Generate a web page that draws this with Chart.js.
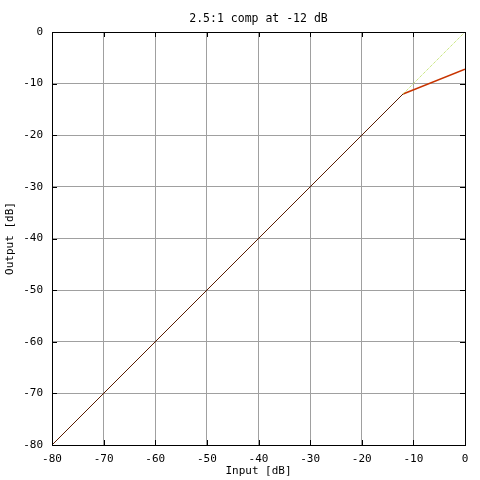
<!DOCTYPE html>
<html>
<head>
<meta charset="utf-8">
<script src="https://cdn.jsdelivr.net/npm/chart.js@4"></script>
<style>
    html, body { margin: 0; padding: 0; background: #fff; }
    canvas { display: block; }
</style>
</head>
<body>
<canvas id="myChart" width="480" height="480"></canvas>
<script>
const titleText = '2.5:1 comp at -12 dB';

// knee at -12 dB, ratio 2.5:1
const linearIn = [-80, -12];
const linearOut = [-80, -12];
const compIn = [-12, 0];
const compOut = [-12, -7.2];
const unityIn = [-12, 0];
const unityOut = [-12, 0];

const tickValues = [-80, -70, -60, -50, -40, -30, -20, -10, 0];

const monoFont = { family: 'DejaVu Sans Mono', size: 11 };

function toPoints(xs, ys) {
    return xs.map((x, i) => ({ x: x, y: ys[i] }));
}

// black frame + inward tick marks, gnuplot style
const framePlugin = {
    id: 'frame',
    afterDatasetsDraw(chart) {
        const { ctx, chartArea: a, scales } = chart;
        ctx.save();
        ctx.strokeStyle = '#000';
        ctx.lineWidth = 1;
        ctx.beginPath();
        tickValues.forEach(v => {
            const x = Math.round(scales.x.getPixelForValue(v)) + 0.5;
            ctx.moveTo(x, a.top); ctx.lineTo(x, a.top + 5);
            ctx.moveTo(x, a.bottom); ctx.lineTo(x, a.bottom - 5);
            const y = Math.round(scales.y.getPixelForValue(v)) + 0.5;
            ctx.moveTo(a.left, y); ctx.lineTo(a.left + 5, y);
            ctx.moveTo(a.right, y); ctx.lineTo(a.right - 5, y);
        });
        ctx.stroke();
        ctx.strokeRect(Math.round(a.left) + 0.5, Math.round(a.top) + 0.5,
            Math.round(a.right - a.left), Math.round(a.bottom - a.top));
        // title centred over the plot area
        ctx.fillStyle = '#000';
        ctx.font = '11.5px "DejaVu Sans Mono"';
        ctx.textAlign = 'center';
        ctx.textBaseline = 'alphabetic';
        ctx.fillText(titleText, (a.left + a.right) / 2, 22);
        ctx.restore();
    }
};

const ctx = document.getElementById('myChart').getContext('2d');
const myChart = new Chart(ctx, {
    type: 'line',
    data: {
        datasets: [
            {
                label: 'unity',
                data: toPoints(unityIn, unityOut),
                borderColor: '#b4dc50',
                borderWidth: 1,
                borderDash: [1, 1],
                pointRadius: 0,
            },
            {
                label: 'linear',
                data: toPoints(linearIn, linearOut),
                borderColor: '#5a1c00',
                borderWidth: 1,
                pointRadius: 0,
            },
            {
                label: 'compressed',
                data: toPoints(compIn, compOut),
                borderColor: '#c83400',
                borderWidth: 1.5,
                pointRadius: 0,
            },
        ],
    },
    options: {
        responsive: false,
        animation: false,
        devicePixelRatio: 1,
        layout: { padding: { top: 32, right: 15, left: 0, bottom: 0 } },
        plugins: {
            legend: { display: false },
            title: { display: false },
            tooltip: { enabled: false },
        },
        scales: {
            x: {
                type: 'linear',
                min: -80,
                max: 0,
                afterFit: s => { s.height = 35; },
                afterBuildTicks: s => { s.ticks = tickValues.map(v => ({ value: v })); },
                grid: { color: '#a0a0a0', drawTicks: false },
                border: { color: '#000' },
                ticks: { color: '#000', font: monoFont, padding: 8, autoSkip: false, maxRotation: 0 },
                title: { display: true, text: 'Input [dB]', color: '#000', font: monoFont, padding: { top: 0, bottom: 2 } },
            },
            y: {
                type: 'linear',
                min: -80,
                max: 0,
                afterFit: s => { s.width = 52; },
                afterBuildTicks: s => { s.ticks = tickValues.map(v => ({ value: v })); },
                grid: { color: '#a0a0a0', drawTicks: false },
                border: { color: '#000' },
                ticks: { color: '#000', font: monoFont, padding: 9, autoSkip: false },
                title: { display: true, text: 'Output [dB]', color: '#000', font: monoFont, padding: { top: 4, bottom: 0 } },
            },
        },
    },
    plugins: [framePlugin],
});
</script>
</body>
</html>
